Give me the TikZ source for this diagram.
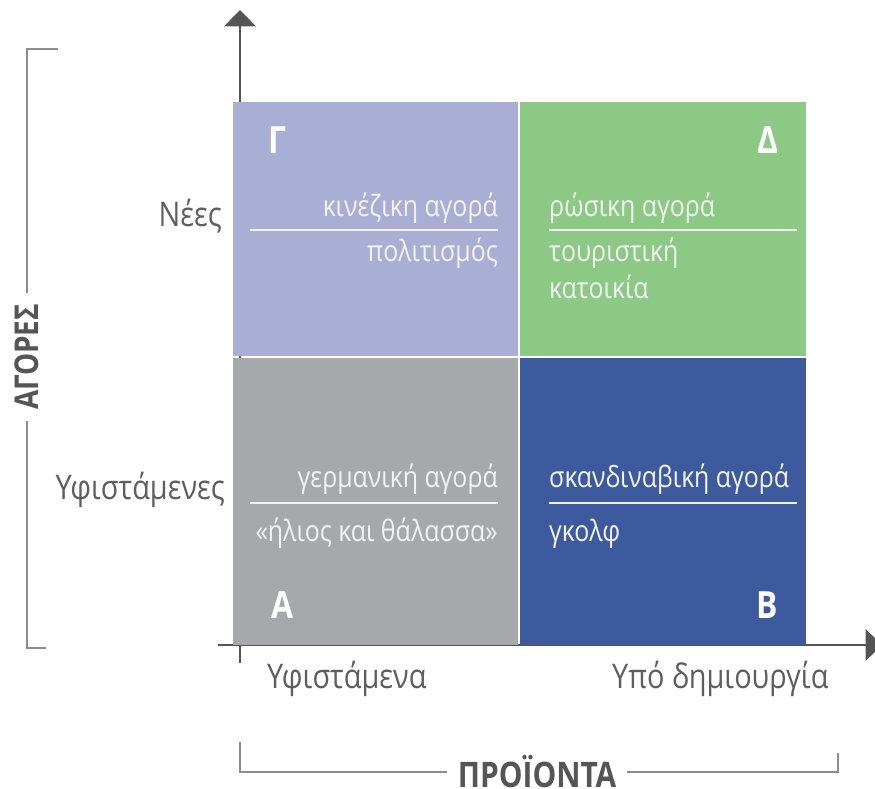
\documentclass[tikz,border=0pt]{standalone}
\usepackage{fontspec}
\setmainfont{Open Sans}[FakeStretch=0.85]
\usetikzlibrary{arrows.meta,positioning}
\definecolor{QGamma}{HTML}{A9AFD4}
\definecolor{QDelta}{HTML}{8BC985}
\definecolor{QAlpha}{HTML}{A7A8AC}
\definecolor{QBeta}{HTML}{3D5A9E}
\definecolor{AxisGray}{HTML}{555555}
\definecolor{LabelGray}{HTML}{5E5E5E}
\definecolor{BracketGray}{HTML}{8C8C8C}
\definecolor{TextWhite}{HTML}{F2F2F2}

\begin{document}
\begin{tikzpicture}[x=0.03cm,y=-0.03cm,
    quad/.style={inner sep=0pt,anchor=north west,minimum width=8.55cm},
    letter/.style={font=\fontsize{32}{32}\selectfont\bfseries,text=white},
    item/.style={font=\fontsize{25}{25}\selectfont,text=TextWhite,inner sep=0pt},
    axislabel/.style={font=\fontsize{29}{29}\selectfont,text=LabelGray,inner sep=0pt},
    title/.style={font=\fontsize{28}{28}\selectfont\bfseries,text=AxisGray,
      inner xsep=9pt,inner ysep=0pt},
    axis/.style={-{Triangle[width=27pt,length=14pt]},line width=1.6pt,draw=AxisGray},
    bracket/.style={line width=0.9pt,draw=BracketGray},
    rule/.style={line width=1.2pt,draw=TextWhite}
  ]
  \useasboundingbox (0,0) rectangle (875,788);

  % axes
  \coordinate (ybot) at (240,663);
  \coordinate (ytop) at (240,10);
  \coordinate (xleft) at (218,645);
  \coordinate (xright) at (882,645);
  \draw[axis] (ybot) -- (ytop);
  \draw[axis] (xleft) -- (xright);

  % quadrants
  \node[quad,fill=QGamma,minimum height=7.62cm] (qg) at (233,102) {};
  \node[quad,fill=QDelta,minimum height=7.62cm,minimum width=8.58cm] (qd) at (520,102) {};
  \node[quad,fill=QAlpha,minimum height=8.61cm] (qa) at (233,358) {};
  \node[quad,fill=QBeta,minimum height=8.61cm,minimum width=8.58cm] (qb) at (520,358) {};

  \node[letter] (lg) at (277,140) {Γ};
  \node[letter] (ld) at (768,140) {Δ};
  \node[letter] (la) at (282,605) {Α};
  \node[letter] (lb) at (767,605) {Β};

  % quadrant texts
  \node[item,anchor=base east] (g1) at (498,216) {κινέζικη αγορά};
  \node[item,anchor=base east] (g2) at (498,261) {πολιτισμός};
  \draw[rule] (250,230) -- (498,230);
  \node[item,anchor=base west] (d1) at (549,216) {ρώσικη αγορά};
  \node[item,anchor=base west] (d2) at (549,261) {τουριστική};
  \node[item,anchor=base west] (d3) at (549,298) {κατοικία};
  \draw[rule] (549,230) -- (797,230);
  \node[item,anchor=base east] (a1) at (498,487) {γερμανική αγορά};
  \node[item,anchor=base east] (a2) at (498,541) {«ήλιος και θάλασσα»};
  \draw[rule] (250,503) -- (498,503);
  \node[item,anchor=base west] (b1) at (549,487) {σκανδιναβική αγορά};
  \node[item,anchor=base west] (b2) at (549,541) {γκολφ};
  \draw[rule] (549,503) -- (797,503);

  % axis labels
  \node[axislabel,anchor=base east] (new) at (222,226) {Νέες};
  \node[axislabel,anchor=base east] (exist) at (225,499) {Υφιστάμενες};
  \node[axislabel,anchor=base west] (prodold) at (267,688) {Υφιστάμενα};
  \node[axislabel,anchor=base west] (prodnew) at (612,688) {Υπό δημιουργία};

  % brackets
  \node[title,rotate=90] (markets) at (27,357) {ΑΓΟΡΕΣ};
  \draw[bracket] (58,49) -| (markets.east);
  \draw[bracket] (46,648) -| (markets.west);
  \node[title,font=\fontsize{30}{30}\selectfont\bfseries] (products) at (537,772) {ΠΡΟΪΟΝΤΑ};
  \draw[bracket] (240,742) |- (products.west);
  \draw[bracket] (838,753) |- (products.east);
\end{tikzpicture}
\end{document}
